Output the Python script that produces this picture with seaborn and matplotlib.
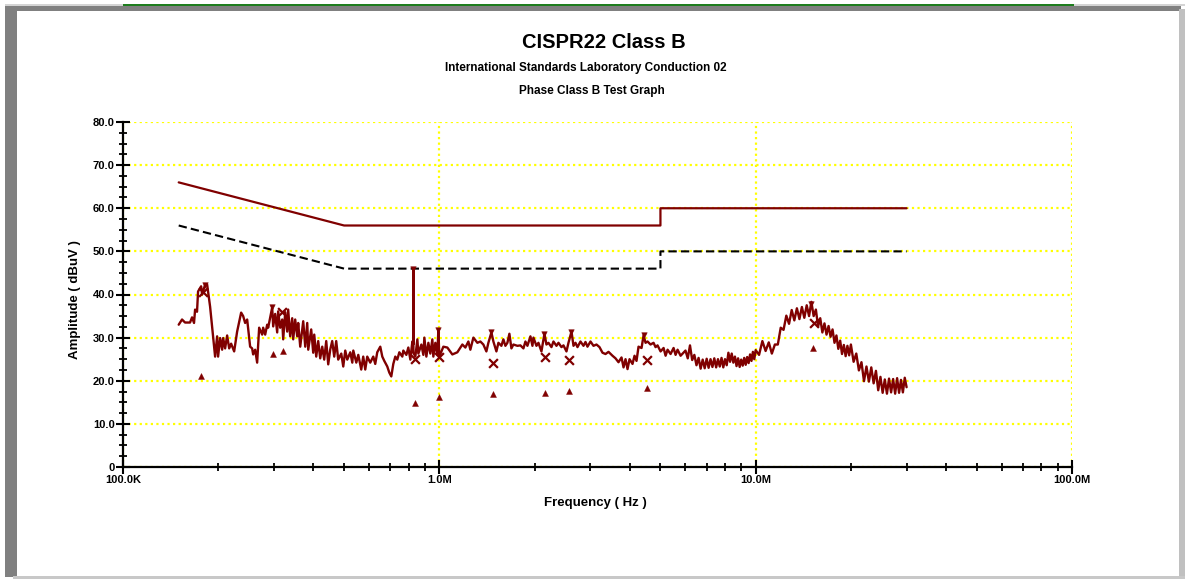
import matplotlib
matplotlib.use("Agg")
import matplotlib.pyplot as plt
import seaborn as sns
import pandas as pd
from matplotlib.patches import Rectangle
from matplotlib.ticker import FixedLocator, LogLocator, MultipleLocator, NullFormatter

# Limit lines (MHz, dBuV)
qp_limit_mhz = [0.15, 0.5, 5.0, 5.0, 30.0]
qp_limit_dbuv = [66.0, 56.0, 56.0, 60.0, 60.0]
avg_limit_mhz = [0.15, 0.5, 5.0, 5.0, 30.0]
avg_limit_dbuv = [56.0, 46.0, 46.0, 50.0, 50.0]

trace_mhz = [
    0.150, 0.1537, 0.1571, 0.1629, 0.1653, 0.1677, 0.1690, 0.1714, 0.1727, 0.1766,
    0.1779, 0.1818, 0.1845, 0.1885, 0.1927, 0.1955, 0.1984, 0.1998, 0.2028, 0.2058,
    0.2073, 0.2103, 0.2134, 0.2166, 0.2197, 0.2246, 0.2295, 0.2363, 0.2398, 0.2433,
    0.2469, 0.2523, 0.2560, 0.2579, 0.2617, 0.2655, 0.2694, 0.2754, 0.2774, 0.2815,
    0.2856, 0.2877, 0.2919, 0.2962, 0.2984, 0.3027, 0.3072, 0.3094, 0.3140, 0.3186,
    0.3209, 0.3257, 0.3304, 0.3328, 0.3377, 0.3427, 0.3452, 0.3502, 0.3554, 0.3580,
    0.3633, 0.3713, 0.3768, 0.3823, 0.3851, 0.3935, 0.3993, 0.4023, 0.4082, 0.4141,
    0.4202, 0.4264, 0.4326, 0.4390, 0.4454, 0.4519,
    0.4585, 0.4653, 0.4721, 0.4790, 0.4898, 0.4969, 0.5042, 0.5116, 0.5230, 0.5307,
    0.5346, 0.5464, 0.5544, 0.5664, 0.5747, 0.5832, 0.5917, 0.6048, 0.6182, 0.6272,
    0.6364, 0.6506, 0.6602, 0.6699, 0.6846, 0.6947, 0.7049, 0.7153, 0.7258, 0.7364,
    0.7473, 0.7638, 0.7694, 0.7865, 0.7980, 0.8098, 0.8217, 0.8277, 0.8277, 0.8280,
    0.8398, 0.8522, 0.8584, 0.8774, 0.8902, 0.8968, 0.9099, 0.9233, 0.9366, 0.9504,
    0.9573, 0.9714, 0.9856, 0.9928, 1.0001, 1.0297, 1.0601, 1.0993, 1.1401, 1.1825,
    1.2086, 1.2353,
    1.2534, 1.2811, 1.3190, 1.3481, 1.3779, 1.4084, 1.4290, 1.4608, 1.4822, 1.5150,
    1.5372, 1.5710, 1.5940, 1.6175, 1.6412, 1.6653, 1.6899, 1.7147, 1.7653, 1.8044,
    1.8443, 1.8713, 1.8988, 1.9409, 1.9694, 1.9838, 2.0277, 2.0574, 2.1026, 2.1336,
    2.1492, 2.1807, 2.2127, 2.2618, 2.2950, 2.3458, 2.3801, 2.4326, 2.4684, 2.5229,
    2.5599, 2.6168, 2.6552, 2.6942, 2.7337, 2.7938, 2.8555, 2.8974, 2.9399, 3.0049,
    3.0713, 3.1392, 3.2086, 3.2797, 3.3521, 3.4261, 3.5271, 3.6050, 3.6846, 3.7665,
    3.8218, 3.8779, 3.9348, 3.9927, 4.0805, 4.1404, 4.2011, 4.2627, 4.3577, 4.4217,
    4.4866, 4.5524, 4.6525, 4.7553, 4.8251, 4.8958, 5.0050, 5.1156, 5.1907, 5.2668,
    5.3827, 5.5016, 5.5824, 5.6642, 5.7903,
    6.0, 6.1, 6.2, 6.3, 6.4, 6.5, 6.6, 6.7, 6.8, 6.9,
    7.0, 7.1, 7.2, 7.3, 7.4, 7.5, 7.6, 7.7, 7.8, 7.9,
    8.0, 8.1, 8.2, 8.3, 8.4, 8.5, 8.6, 8.7, 8.8, 8.9,
    9.0, 9.1, 9.2, 9.3, 9.4, 9.5, 9.6, 9.7, 9.8, 9.9,
    10.0, 10.25, 10.5, 10.75, 11.0, 11.25, 11.5, 11.75, 12.0, 12.25,
    12.5, 12.75, 13.0, 13.25, 13.5, 13.75, 14.0, 14.25, 14.5, 14.75,
    15.0, 15.25, 15.5, 15.75, 16.0, 16.25, 16.5, 16.75, 17.0, 17.25,
    17.5, 17.75, 18.0, 18.25, 18.5, 18.75, 19.0, 19.25, 19.5, 19.75,
    20.0, 20.4, 20.8, 21.2, 21.6, 22.0, 22.4, 22.8, 23.2, 23.6,
    24.0, 24.4, 24.8, 25.2, 25.6, 26.0, 26.4, 26.8, 27.2, 27.6,
    28.0, 28.4, 28.8, 29.2, 29.6, 30.0,
]
trace_dbuv = [
    33.0, 34.2, 33.5, 33.5, 34.7, 33.4, 36.5, 36.0, 40.7, 41.9,
    40.0, 42.3, 42.3, 37.2, 30.3, 25.6, 30.3, 25.6, 29.9, 27.2,
    29.9, 27.5, 30.5, 27.5, 28.6, 26.8, 31.4, 35.8, 35.0, 33.4,
    34.2, 27.9, 27.5, 26.1, 27.2, 24.2, 32.3, 30.7, 32.3, 30.7,
    33.0, 32.3, 34.7, 37.0, 32.6, 35.5, 31.2, 36.1, 32.3, 34.2,
    29.6, 35.9, 31.4, 36.5, 30.3, 34.5, 29.6, 34.2, 30.3, 33.4,
    27.9, 33.8, 27.9, 33.4, 27.2, 31.9, 26.5, 30.7, 25.6, 29.2,
    25.2, 27.9, 24.9, 29.2, 23.8, 27.2,
    29.2, 25.6, 29.2, 24.9, 26.3, 23.3, 27.0, 24.9, 26.6, 24.2,
    27.0, 24.2, 26.0, 22.6, 25.6, 22.6, 25.6, 24.2, 25.6, 23.9,
    26.6, 27.9, 25.6, 24.6, 23.3, 21.9, 21.0, 23.9, 25.6, 24.9,
    26.6, 25.6, 27.0, 26.0, 27.7, 24.9, 29.1, 28.5, 45.8, 26.5,
    25.6, 29.6, 26.3, 28.4, 26.0, 30.0, 25.6, 28.8, 26.3, 29.6,
    25.6, 28.8, 26.0, 31.7, 25.6, 27.9, 27.7, 26.1, 26.6, 28.4,
    27.7, 29.1,
    27.2, 30.0, 28.8, 29.1, 28.4, 26.8, 28.8, 31.2, 29.1, 26.8,
    28.8, 28.1, 29.6, 28.1, 28.8, 30.9, 27.5, 28.4, 28.1, 28.2,
    27.5, 29.1, 28.1, 30.3, 28.1, 30.0, 28.1, 28.8, 26.8, 29.6,
    30.9, 28.4, 28.8, 27.8, 29.1, 28.1, 28.8, 27.8, 28.2, 26.8,
    28.8, 31.4, 28.1, 28.8, 27.8, 29.1, 28.1, 29.0, 27.9, 29.1,
    28.1, 28.4, 27.8, 26.5, 26.2, 26.7, 25.8, 25.2, 24.3, 25.4,
    23.1, 25.0, 22.7, 25.0, 23.9, 25.8, 24.6, 27.9, 27.6, 30.5,
    28.8, 29.1, 28.4, 28.8, 27.8, 28.2, 26.8, 27.6, 25.8, 27.2,
    26.2, 27.6, 26.0, 27.2, 25.8,
    27.0, 25.2, 28.2, 24.8, 26.0, 23.6, 25.3, 22.8, 24.9, 22.9,
    25.1, 23.0, 25.0, 23.2, 25.2, 23.1, 25.0, 23.3, 25.3, 23.1,
    25.0, 23.6, 26.5, 24.4, 26.3, 24.2, 25.6, 23.4, 25.2, 23.2,
    24.9, 23.5, 25.3, 23.7, 25.5, 24.1, 26.1, 24.6, 26.7, 25.0,
    27.1, 26.0, 29.2, 26.9, 28.9, 26.3, 28.4, 28.4, 32.3, 31.8,
    35.1, 33.2, 36.4, 34.0, 36.8, 34.3, 37.1, 34.6, 37.5, 35.0,
    38.3, 35.0, 36.5, 32.6, 34.5, 31.2, 33.3, 30.7, 32.7, 30.2,
    31.9, 28.8, 30.5, 27.4, 29.3, 26.2, 28.3, 25.7, 28.1, 25.9,
    28.4, 24.4, 26.3, 22.4, 24.3, 19.9, 23.3, 19.8, 23.1, 19.4,
    22.3, 17.8, 20.9, 17.2, 20.3, 17.0, 20.5, 17.3, 20.4, 17.0,
    20.6, 17.2, 20.2, 17.3, 20.7, 18.5,
]

# Final measurement markers
peak_mhz = [0.1818, 0.2962, 0.8277, 0.9928, 1.4608, 2.1492, 2.6168, 4.4217, 14.94]
peak_dbuv = [42.3, 37.0, 45.8, 31.7, 31.2, 30.9, 31.4, 30.5, 37.9]
qp_mhz = [0.1791, 0.3186, 0.8398, 0.995, 1.4822, 2.1648, 2.5787, 4.5195, 15.27]
qp_dbuv = [40.6, 36.0, 25.0, 25.4, 24.2, 25.4, 24.7, 24.9, 33.3]
avg_mhz = [0.1766, 0.2984, 0.3209, 0.8398, 1.0, 1.4822, 2.1648, 2.5787, 4.5195, 15.16]
avg_dbuv = [21.2, 26.3, 26.9, 14.8, 16.3, 17.0, 17.2, 17.7, 18.4, 27.5]

x_ticks = [0.1, 1.0, 10.0, 100.0]
x_ticklabels = ["100.0K", "1.0M", "10.0M", "100.0M"]
y_ticks = [0, 10, 20, 30, 40, 50, 60, 70, 80]
y_ticklabels = ["0", "10.0", "20.0", "30.0", "40.0", "50.0", "60.0", "70.0", "80.0"]

DARK_RED = "#800000"
W, H = 1185, 579

sns.set_style("white")
plt.rcParams["font.family"] = ["Liberation Sans", "DejaVu Sans"]
plt.rcParams["font.weight"] = "bold"
plt.rcParams["text.color"] = "black"
plt.rcParams["xtick.color"] = "black"
plt.rcParams["ytick.color"] = "black"

fig = plt.figure(figsize=(W / 100, H / 100), dpi=100)
ax = fig.add_axes([123 / W, 1 - 467 / H, (1072 - 123) / W, (467 - 122) / H])
ax.set_facecolor("white")


# window frame drawn in pixel coordinates (top-left origin)
def frame_box(x0, y0, x1, y1, color):
    fig.add_artist(Rectangle((x0 / W, 1 - y1 / H), (x1 - x0) / W, (y1 - y0) / H,
                             transform=fig.transFigure, color=color, lw=0, zorder=-5))


frame_box(5, 4, 123, 6, "#d4d4d4")
frame_box(123, 4, 1074, 6, "#1e7d1e")
frame_box(1074, 4, 1185, 6, "#d4d4d4")
frame_box(5, 6, 1181, 11, "#808080")
frame_box(5, 6, 17, 577, "#808080")
frame_box(1179, 9, 1185, 579, "#c0c0c0")
frame_box(13, 576, 1185, 579, "#c8c8c8")

# limits
lim = pd.DataFrame({"f": qp_limit_mhz, "v": qp_limit_dbuv})
sns.lineplot(data=lim, x="f", y="v", sort=False, estimator=None, color=DARK_RED,
             lw=1.6, ax=ax, zorder=3)
lim_avg = pd.DataFrame({"f": avg_limit_mhz, "v": avg_limit_dbuv})
sns.lineplot(data=lim_avg, x="f", y="v", sort=False, estimator=None, color="black",
             lw=1.5, ax=ax, zorder=3, linestyle=(0, (4, 2)))

# trace
tr = pd.DataFrame({"f": trace_mhz, "v": trace_dbuv})
sns.lineplot(data=tr, x="f", y="v", sort=False, estimator=None, color=DARK_RED,
             lw=1.7, ax=ax, zorder=4)

# markers
sns.scatterplot(x=peak_mhz, y=peak_dbuv, marker="v", s=16, color=DARK_RED,
                edgecolor=DARK_RED, ax=ax, zorder=5)
sns.scatterplot(x=qp_mhz, y=qp_dbuv, marker="x", s=40, color=DARK_RED,
                linewidth=1.6, ax=ax, zorder=5)
sns.scatterplot(x=avg_mhz, y=avg_dbuv, marker="^", s=18, color=DARK_RED,
                edgecolor=DARK_RED, ax=ax, zorder=5)

ax.set_xscale("log")
ax.set_xlim(0.1, 100)
ax.set_ylim(0, 80)

ax.xaxis.set_major_locator(FixedLocator(x_ticks))
ax.set_xticklabels(x_ticklabels)
ax.xaxis.set_minor_locator(LogLocator(base=10, subs=[2, 3, 4, 5, 6, 7, 8, 9]))
ax.xaxis.set_minor_formatter(NullFormatter())
ax.set_yticks(y_ticks)
ax.set_yticklabels(y_ticklabels)
ax.yaxis.set_minor_locator(MultipleLocator(2.5))

ax.grid(True, which="major", color="#ffff00", linestyle=(0, (1, 1.5)), lw=1.6, zorder=0)
ax.set_axisbelow(True)

for side in ["top", "right"]:
    ax.spines[side].set_visible(False)
for side in ["left", "bottom"]:
    ax.spines[side].set_color("black")
    ax.spines[side].set_linewidth(1.6)
    ax.spines[side].set_zorder(6)

ax.tick_params(which="both", bottom=True, left=True, top=False, right=False)
ax.tick_params(which="major", direction="inout", length=10, width=1.5, color="black",
               labelsize=8, pad=1, labelcolor="black")
ax.tick_params(which="minor", direction="inout", length=6, width=1.3, color="black")
for lab in ax.get_xticklabels() + ax.get_yticklabels():
    lab.set_fontweight("bold")

ax.set_xlabel("")
ax.set_ylabel("")

fig.text(604 / W, 1 - 43 / H, "CISPR22 Class B", ha="center", va="center",
         fontsize=14.5, fontweight="bold", color="black")
fig.text(586 / W, 1 - 68 / H, "International Standards Laboratory Conduction 02",
         ha="center", va="center", fontsize=8.5, fontweight="bold", color="black")
fig.text(592 / W, 1 - 91 / H, "Phase Class B Test Graph", ha="center", va="center",
         fontsize=8.5, fontweight="bold", color="black")
fig.text(75 / W, 1 - 300 / H, "Amplitude ( dBuV )", rotation=90, ha="center",
         va="center", fontsize=9.5, fontweight="bold", color="black")
fig.text(595 / W, 1 - 503 / H, "Frequency ( Hz )", ha="center", va="center",
         fontsize=9.5, fontweight="bold", color="black")

fig.savefig("out.png", dpi=100, facecolor="white")
